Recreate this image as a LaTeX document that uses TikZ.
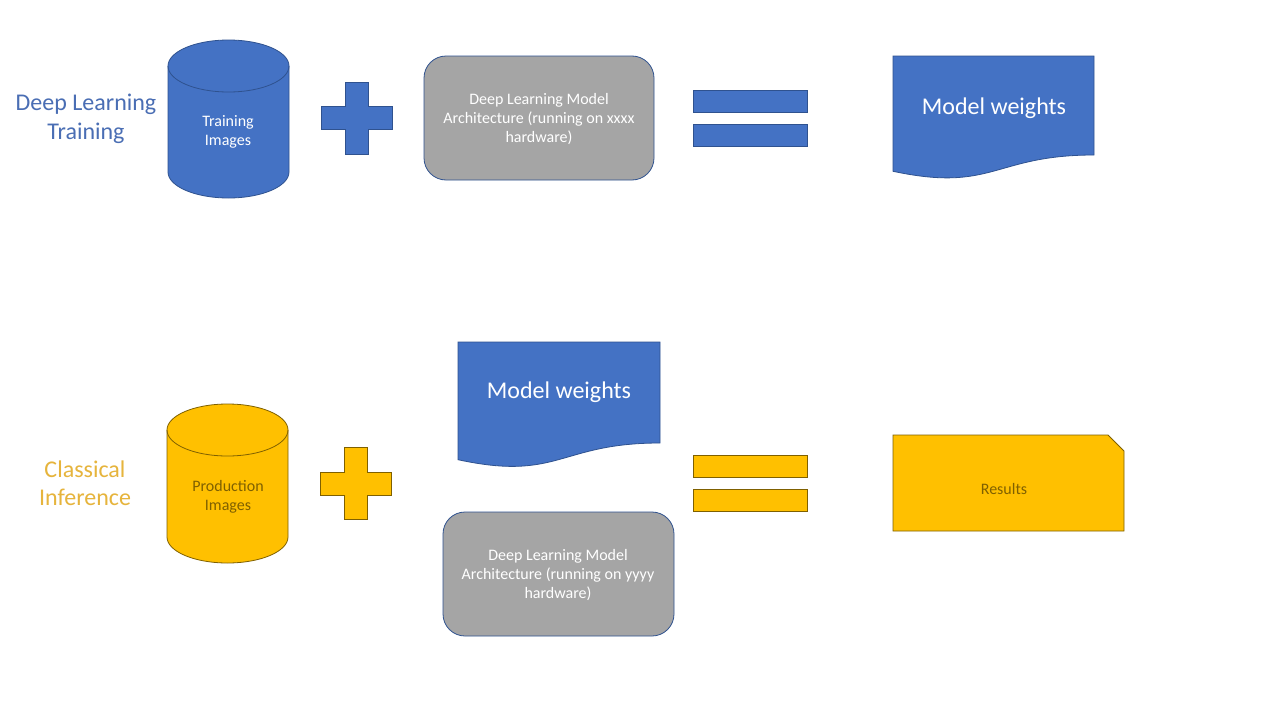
\documentclass[tikz,border=0pt]{standalone}
\usepackage{fontspec}
\setmainfont{Carlito}
\definecolor{accblue}{HTML}{4472C4}
\definecolor{accblueline}{HTML}{2F528F}
\definecolor{accgold}{HTML}{FFC000}
\definecolor{accgoldline}{HTML}{7F6000}
\definecolor{accgray}{HTML}{A5A5A5}
\definecolor{titleblue}{HTML}{4A6EB4}
\definecolor{titlegold}{HTML}{E6B43C}
\tikzset{
  blueshape/.style={fill=accblue, draw=accblueline, line width=0.8pt},
  goldshape/.style={fill=accgold, draw=accgoldline, line width=0.8pt},
  grayshape/.style={fill=accgray, draw=accblueline, line width=0.8pt, rounded corners=22pt},
  titletext/.style={font=\fontsize{24}{28.5}\selectfont, align=center},
  smalltext/.style={font=\fontsize{16}{19}\selectfont, align=center},
  bigtext/.style={font=\fontsize{24}{28}\selectfont, text=white}
}
% plus sign around a centre point
\newcommand{\plusat}[2]{\draw[#2] (#1) ++(-11.5,-36) -- ++(23,0) -- ++(0,24.5) -- ++(24,0) -- ++(0,23) -- ++(-24,0) -- ++(0,24.5) -- ++(-23,0) -- ++(0,-24.5) -- ++(-24,0) -- ++(0,-23) -- ++(24,0) -- cycle;}
\begin{document}
\begin{tikzpicture}[x=1pt,y=-1pt]
\useasboundingbox[fill=white] (0,0) rectangle (1280,720);

% titles
\node[titletext, text=titleblue] (titletrain) at (86,119) {Deep Learning\\Training};
\node[titletext, text=titlegold] (titleinfer) at (85,483) {Classical\\Inference};

% top row
\draw[blueshape] (168,66) -- (168,172) arc[start angle=180, end angle=0, x radius=60.5, y radius=26]
  -- (289,66) arc[start angle=0, end angle=-180, x radius=60.5, y radius=26] -- cycle;
\draw[draw=accblueline, line width=0.8pt] (168,66) arc[start angle=180, end angle=0, x radius=60.5, y radius=26];
\node[smalltext, text=white] (trainimg) at (228,132) {Training\\Images};
\plusat{356.5,118}{blueshape}
\draw[grayshape] (424,56) rectangle (654,180);
\node[smalltext, text=white] (archtrain) at (539,119) {Deep Learning Model\\Architecture (running on xxxx\\hardware)};
\draw[blueshape] (693,90) rectangle (807,112);
\draw[blueshape] (693,124) rectangle (807,146);
\draw[blueshape] (893,56) -- (1094,56) -- (1094,155) .. controls (993.5,155) and (993.5,192.7) .. (893,171.3) -- cycle;
\node[bigtext] (weightstrain) at (994,108) {Model weights};

% bottom row
\draw[goldshape] (167,430) -- (167,537) arc[start angle=180, end angle=0, x radius=60.5, y radius=26]
  -- (288,430) arc[start angle=0, end angle=-180, x radius=60.5, y radius=26] -- cycle;
\draw[draw=accgoldline, line width=0.8pt] (167,430) arc[start angle=180, end angle=0, x radius=60.5, y radius=26];
\node[smalltext, text=accgoldline] (prodimg) at (228,497) {Production\\Images};
\plusat{355.5,483.5}{goldshape}
\draw[blueshape] (458,342) -- (660,342) -- (660,443) .. controls (559,443) and (559,481.5) .. (458,459.7) -- cycle;
\node[bigtext] (weightsinfer) at (559,392) {Model weights};
\draw[grayshape] (443,512) rectangle (674,636);
\node[smalltext, text=white] (archinfer) at (558,575) {Deep Learning Model\\Architecture (running on yyyy\\hardware)};
\draw[goldshape] (693,455) rectangle (807,477);
\draw[goldshape] (693,489) rectangle (807,511);
\draw[goldshape] (893,435) -- (1108,435) -- (1124,451) -- (1124,531) -- (893,531) -- cycle;
\node[smalltext, text=accgoldline] (results) at (1004,489) {Results};
\end{tikzpicture}
\end{document}
